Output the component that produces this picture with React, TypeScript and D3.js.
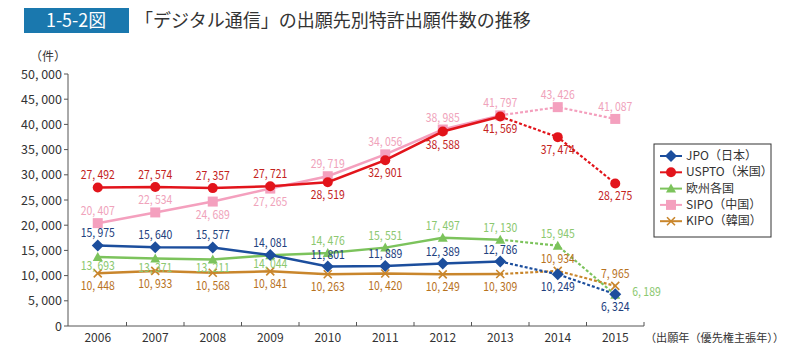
import * as React from "react";
import * as d3 from "d3";

const years = ["2006", "2007", "2008", "2009", "2010", "2011", "2012", "2013", "2014", "2015"];
const jpo = [15975, 15640, 15577, 14081, 11801, 11889, 12389, 12786, 10249, 6324];
const uspto = [27492, 27574, 27357, 27721, 28519, 32901, 38588, 41569, 37474, 28275];
const europe = [13693, 13371, 13211, 14044, 14476, 15551, 17497, 17130, 15945, 6189];
const sipo = [20407, 22534, 24689, 27265, 29719, 34056, 38985, 41797, 43426, 41087];
const kipo = [10448, 10933, 10568, 10841, 10263, 10420, 10249, 10309, 10934, 7965];
const yTicks = [0, 5000, 10000, 15000, 20000, 25000, 30000, 35000, 40000, 45000, 50000];
const lastSolid = 7; // 2013: after this the lines are drawn dotted

// where each value label sits: a = above, b = below, r = right
const jpoSide = "aaaaaaaabb";
const usptoSide = "aaaabbbbbb";
const europeSide = "bbbbaaaaar";
const sipoSide = "aabbaaaaaa";
const kipoSide = "bbbbbbbbaa";

const series = [
  { name: "SIPO（中国）", values: sipo, side: sipoSide, line: "#f4a0be", text: "#f0a3bb", mark: "square", gap: 17 },
  { name: "KIPO（韓国）", values: kipo, side: kipoSide, line: "#c9862c", text: "#b8731f", mark: "x", gap: 17 },
  { name: "欧州各国", values: europe, side: europeSide, line: "#7cc35c", text: "#8cc870", mark: "triangle", gap: 13 },
  { name: "JPO（日本）", values: jpo, side: jpoSide, line: "#1c4e9d", text: "#22407e", mark: "diamond", gap: 17 },
  { name: "USPTO（米国）", values: uspto, side: usptoSide, line: "#e2141b", text: "#c4231e", mark: "circle", gap: 17 },
];
const legendOrder = [3, 4, 2, 0, 1];

const fmt = (v: number) => d3.format(",")(v).replace(",", ", ");

function Marker({ type, x, y, color }: { type: string; x: number; y: number; color: string }) {
  if (type === "circle") return <circle cx={x} cy={y} r={5} fill={color} />;
  if (type === "square") return <rect x={x - 5} y={y - 5} width={10} height={10} fill={color} />;
  if (type === "diamond") return <path d={`M${x},${y - 6}L${x + 6},${y}L${x},${y + 6}L${x - 6},${y}Z`} fill={color} />;
  if (type === "triangle") return <path d={`M${x},${y - 5}L${x + 5},${y + 4}L${x - 5},${y + 4}Z`} fill={color} />;
  return (
    <path d={`M${x - 4},${y - 4}L${x + 4},${y + 4}M${x - 4},${y + 4}L${x + 4},${y - 4}`} stroke={color} strokeWidth={1.6} />
  );
}

export default function App() {
  const W = 792, H = 354;
  const x = d3.scaleBand().domain(years).range([69, 644]);
  const y = d3.scaleLinear().domain([0, 50000]).range([326, 74]);
  const cx = (i: number) => (x(years[i]) as number) + x.bandwidth() / 2;
  const solid = d3.line<number>().x((_, i) => cx(i)).y((d) => y(d));
  const dotted = d3.line<number>().x((_, i) => cx(i + lastSolid)).y((d) => y(d));
  const font = "'Noto Sans CJK JP', 'Noto Sans', sans-serif";

  return (
    <svg width={W} height={H} style={{ position: "absolute", left: 0, top: 0, fontFamily: font }}>
      <rect width={W} height={H} fill="#fff" />
      <rect x={24} y={8} width={105} height={25} fill="#1a78ae" />
      <text x={76} y={27} fill="#fff" fontSize={18} textAnchor="middle" textLength={60} lengthAdjust="spacingAndGlyphs">1-5-2図</text>
      <text x={135} y={27} fill="#333" fontSize={18}>「デジタル通信」の出願先別特許出願件数の推移</text>

      <text x={30} y={61} fontSize={12} fill="#333">（件）</text>
      {yTicks.map((t) => (
        <g key={t}>
          <line x1={64} x2={68} y1={y(t)} y2={y(t)} stroke="#555" />
          <text x={62} y={y(t) + 4.5} fontSize={12.5} fill="#333" textAnchor="end">{fmt(t)}</text>
        </g>
      ))}
      <line x1={68} x2={68} y1={74} y2={326} stroke="#555" />
      <line x1={68} x2={644} y1={326} y2={326} stroke="#555" />
      {years.map((yr, i) => (
        <g key={yr}>
          <line x1={(x(yr) as number) + x.bandwidth()} x2={(x(yr) as number) + x.bandwidth()} y1={322} y2={326} stroke="#555" />
          <text x={cx(i)} y={342} fontSize={12} fill="#333" textAnchor="middle">{yr}</text>
        </g>
      ))}
      <text x={645} y={342} fontSize={11} fill="#333" textLength={139} lengthAdjust="spacingAndGlyphs">（出願年（優先権主張年））</text>

      {series.map((s) => (
        <g key={s.name}>
          <path d={solid(s.values.slice(0, lastSolid + 1)) as string} fill="none" stroke={s.line} strokeWidth={2.5} />
          <path
            d={dotted(s.values.slice(lastSolid)) as string}
            fill="none"
            stroke={s.line}
            strokeWidth={2.2}
            strokeDasharray="3,2"
          />
          {s.values.map((v, i) => (
            <Marker key={i} type={s.mark} x={cx(i)} y={y(v)} color={s.line} />
          ))}
        </g>
      ))}
      {series.map((s) => (
        <g key={s.name + "-labels"}>
          {s.values.map((v, i) => {
            const side = s.side[i];
            const label = fmt(v);
            const px = side === "r" ? cx(i) + 17 : cx(i);
            const py = side === "a" ? y(v) - 8 : side === "b" ? y(v) + s.gap : y(v) + 1;
            return (
              <text
                key={i}
                x={px}
                y={py}
                fontSize={12.5}
                fill={s.text}
                textAnchor={side === "r" ? "start" : "middle"}
                textLength={(label.length - 1) * 5.7}
                lengthAdjust="spacingAndGlyphs"
              >
                {label}
              </text>
            );
          })}
        </g>
      ))}

      <rect x={654} y={144} width={117} height={93} fill="#fff" stroke="#333" />
      {legendOrder.map((si, k) => {
        const s = series[si];
        const ly = 156 + k * 16.3;
        return (
          <g key={s.name}>
            <line x1={660} x2={682} y1={ly} y2={ly} stroke={s.line} strokeWidth={2} />
            <Marker type={s.mark} x={671} y={ly} color={s.line} />
            <text x={686} y={ly + 4} fontSize={12} fill="#333">{s.name}</text>
          </g>
        );
      })}
    </svg>
  );
}
